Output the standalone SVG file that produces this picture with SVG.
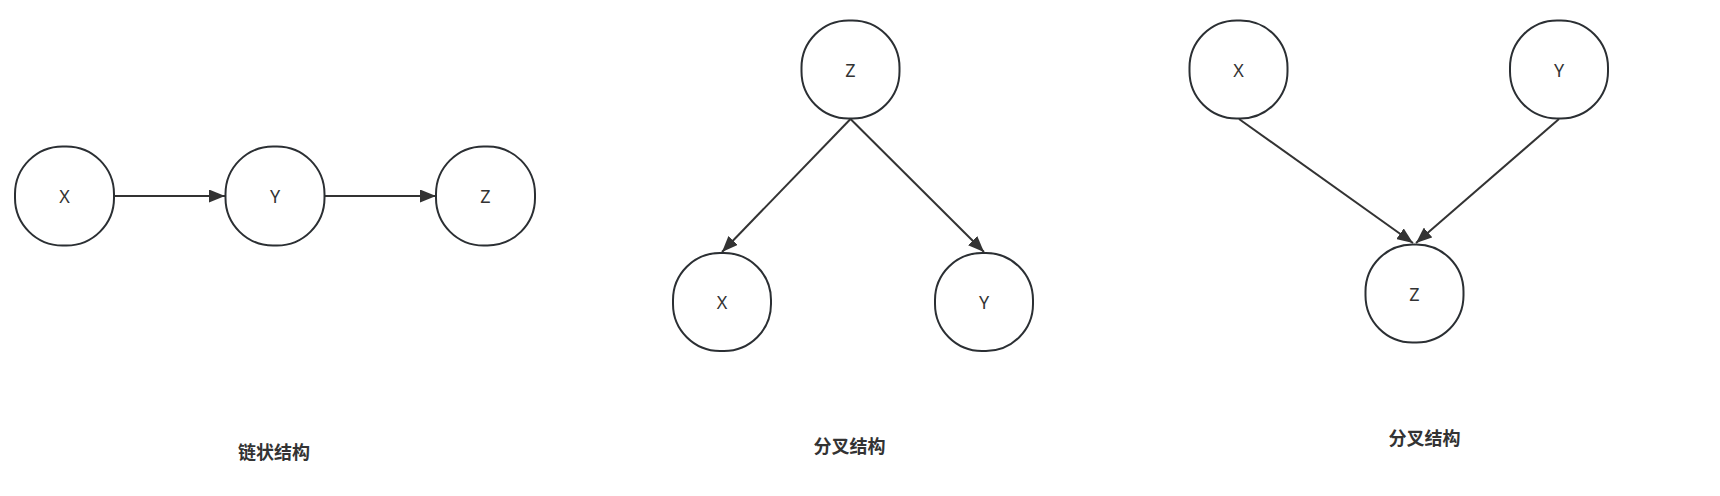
<svg xmlns="http://www.w3.org/2000/svg" width="1720" height="496" viewBox="0 0 1720 496">
<defs>
<marker id="arr" markerWidth="17" markerHeight="13" refX="16" refY="6.5" orient="auto" markerUnits="userSpaceOnUse">
<path d="M0,0 L16,6.5 L0,13 Z" fill="#333"/>
</marker>
<style>
.node{fill:#fff;stroke:#2b2f33;stroke-width:2}
.lbl{font-family:"Noto Sans","Liberation Sans",sans-serif;font-size:18px;fill:#333;text-anchor:middle}
.edge{stroke:#333;stroke-width:2;fill:none;marker-end:url(#arr)}
.cap{font-family:"Noto Sans CJK SC","Noto Sans",sans-serif;font-size:18px;font-weight:bold;fill:#333;text-anchor:middle}
</style>
</defs>
<rect width="1720" height="496" fill="#fff"/>
<g id="connectors">
<line class="edge" x1="114" y1="196" x2="225" y2="196"/>
<line class="edge" x1="325" y1="196" x2="436" y2="196"/>
<line class="edge" x1="850.5" y1="119" x2="722" y2="252"/>
<line class="edge" x1="850.5" y1="119" x2="984" y2="252"/>
<line class="edge" x1="1239" y1="119" x2="1413" y2="243"/>
<line class="edge" x1="1559" y1="119" x2="1416" y2="243"/>
</g>
<g id="chain-x"><rect class="node" x="15" y="146.5" width="99" height="99" rx="47.5"/><text class="lbl" x="64.5" y="203">X</text></g>
<g id="chain-y"><rect class="node" x="225.5" y="146.5" width="99" height="99" rx="47.5"/><text class="lbl" x="275" y="203">Y</text></g>
<g id="chain-z"><rect class="node" x="436" y="146.5" width="99" height="99" rx="47.5"/><text class="lbl" x="485.5" y="203">Z</text></g>
<g id="fork-z"><rect class="node" x="801.5" y="20.5" width="98" height="98" rx="47"/><text class="lbl" x="850.5" y="77">Z</text></g>
<g id="fork-x"><rect class="node" x="673" y="253" width="98" height="98" rx="47"/><text class="lbl" x="722" y="309">X</text></g>
<g id="fork-y"><rect class="node" x="935" y="253" width="98" height="98" rx="47"/><text class="lbl" x="984" y="309">Y</text></g>
<g id="coll-x"><rect class="node" x="1189.5" y="20.5" width="98" height="98" rx="47"/><text class="lbl" x="1238.5" y="77">X</text></g>
<g id="coll-y"><rect class="node" x="1510" y="20.5" width="98" height="98" rx="47"/><text class="lbl" x="1559" y="77">Y</text></g>
<g id="coll-z"><rect class="node" x="1365.5" y="244.5" width="98" height="98" rx="47"/><text class="lbl" x="1414.5" y="301">Z</text></g>
<text class="cap" x="274" y="459">链状结构</text>
<text class="cap" x="849.5" y="453">分叉结构</text>
<text class="cap" x="1424.5" y="444.5">分叉结构</text>
</svg>
